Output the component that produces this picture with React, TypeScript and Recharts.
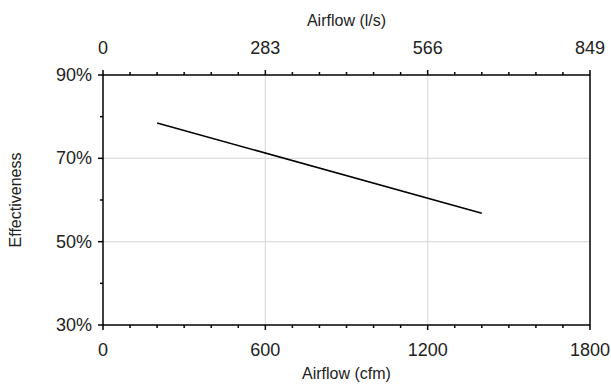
import React from 'react';
import { LineChart, Line, XAxis, YAxis, ReferenceLine } from 'recharts';

// airflow in cfm vs. effectiveness (%)
const airflowCfm = [200, 1400];
const effectiveness = [78.5, 56.8];

const cfmTicks = [0, 100, 200, 300, 400, 500, 600, 700, 800, 900, 1000, 1100, 1200, 1300, 1400, 1500, 1600, 1700, 1800];
const cfmMajor = [0, 600, 1200, 1800];
const lsLabels: Record<number, string> = { 0: '0', 600: '283', 1200: '566', 1800: '849' };
const pctTicks = [30, 40, 50, 60, 70, 80, 90];
const pctMajor = [30, 50, 70, 90];
const gridX = [600, 1200];
const gridY = [50, 70];

const data = airflowCfm.map((cfm, i) => ({ cfm, eff: effectiveness[i] }));

const FONT = '"Liberation Sans", Arial, sans-serif';
const TXT = '#222';

const BottomTick = (props: any) => {
  const { x, y, payload } = props;
  const major = cfmMajor.includes(payload.value);
  return (
    <g>
      <line x1={x} y1={y} x2={x} y2={y + (major ? 5 : 3)} stroke="#000" strokeWidth={1.5} />
      {major && (
        <text x={x} y={y + 25} textAnchor="middle" dominantBaseline="central" fontSize={18} fontFamily={FONT} fill={TXT}>
          {payload.value}
        </text>
      )}
    </g>
  );
};

const TopTick = (props: any) => {
  const { x, y, payload } = props;
  const major = cfmMajor.includes(payload.value);
  return (
    <g>
      <line x1={x} y1={y} x2={x} y2={y - (major ? 5 : 3)} stroke="#000" strokeWidth={1.5} />
      {major && (
        <text x={x} y={y - 27} textAnchor="middle" dominantBaseline="central" fontSize={18} fontFamily={FONT} fill={TXT}>
          {lsLabels[payload.value]}
        </text>
      )}
    </g>
  );
};

const LeftTick = (props: any) => {
  const { x, y, payload } = props;
  const major = pctMajor.includes(payload.value);
  return (
    <g>
      <line x1={x} y1={y} x2={x - (major ? 5 : 3)} y2={y} stroke="#000" strokeWidth={1.5} />
      {major && (
        <text x={x - 11} y={y} textAnchor="end" dominantBaseline="central" fontSize={18} fontFamily={FONT} fill={TXT}>
          {payload.value}%
        </text>
      )}
    </g>
  );
};

const AxisTitle = (props: any) => {
  const { viewBox, text, dx = 0, dy = 0, rotate } = props;
  const cx = viewBox.x + (rotate ? 0 : viewBox.width / 2) + dx;
  const cy = viewBox.y + (rotate ? viewBox.height / 2 : 0) + dy;
  return (
    <text
      x={cx}
      y={cy}
      textAnchor="middle"
      dominantBaseline="central"
      fontSize={16}
      fontFamily={FONT}
      fill={TXT}
      transform={rotate ? `rotate(-90 ${cx} ${cy})` : undefined}
    >
      {text}
    </text>
  );
};

export default function App() {
  return (
    <div style={{ position: 'absolute', left: 0, top: 0, background: '#fff' }}>
      <LineChart width={611} height={385} data={data} margin={{ top: 0, right: 21, bottom: 0, left: 0 }}>
        {gridX.map((v) => (
          <ReferenceLine key={`gx${v}`} x={v} xAxisId="bottom" stroke="#dcdcdc" strokeWidth={1.2} />
        ))}
        {gridY.map((v) => (
          <ReferenceLine key={`gy${v}`} y={v} xAxisId="bottom" stroke="#dcdcdc" strokeWidth={1.2} />
        ))}
        <XAxis
          xAxisId="bottom"
          dataKey="cfm"
          type="number"
          domain={[0, 1800]}
          ticks={cfmTicks}
          interval={0}
          height={60}
          tickSize={0}
          tickMargin={0}
          tickLine={false}
          axisLine={{ stroke: '#000', strokeWidth: 1.5 }}
          tick={<BottomTick />}
          label={<AxisTitle text="Airflow (cfm)" dy={48} />}
        />
        <XAxis
          xAxisId="top"
          dataKey="cfm"
          orientation="top"
          type="number"
          domain={[0, 1800]}
          ticks={cfmTicks}
          interval={0}
          height={75}
          tickSize={0}
          tickMargin={0}
          tickLine={false}
          axisLine={{ stroke: '#000', strokeWidth: 1.5 }}
          tick={<TopTick />}
          label={<AxisTitle text="Airflow (l/s)" dy={20} />}
        />
        <YAxis
          type="number"
          domain={[30, 90]}
          ticks={pctTicks}
          interval={0}
          width={103}
          tickSize={0}
          tickMargin={0}
          tickLine={false}
          axisLine={{ stroke: '#000', strokeWidth: 1.5 }}
          tick={<LeftTick />}
          label={<AxisTitle text="Effectiveness" rotate dx={15} />}
        />
        <ReferenceLine x={1800} xAxisId="bottom" stroke="#000" strokeWidth={1.5} />
        <Line
          xAxisId="bottom"
          dataKey="eff"
          stroke="#000"
          strokeWidth={1.5}
          dot={false}
          isAnimationActive={false}
        />
        {/* same points on the l/s axis, kept invisible so that axis gets a scale */}
        <Line
          xAxisId="top"
          dataKey="eff"
          stroke="none"
          dot={false}
          activeDot={false}
          isAnimationActive={false}
        />
      </LineChart>
    </div>
  );
}
